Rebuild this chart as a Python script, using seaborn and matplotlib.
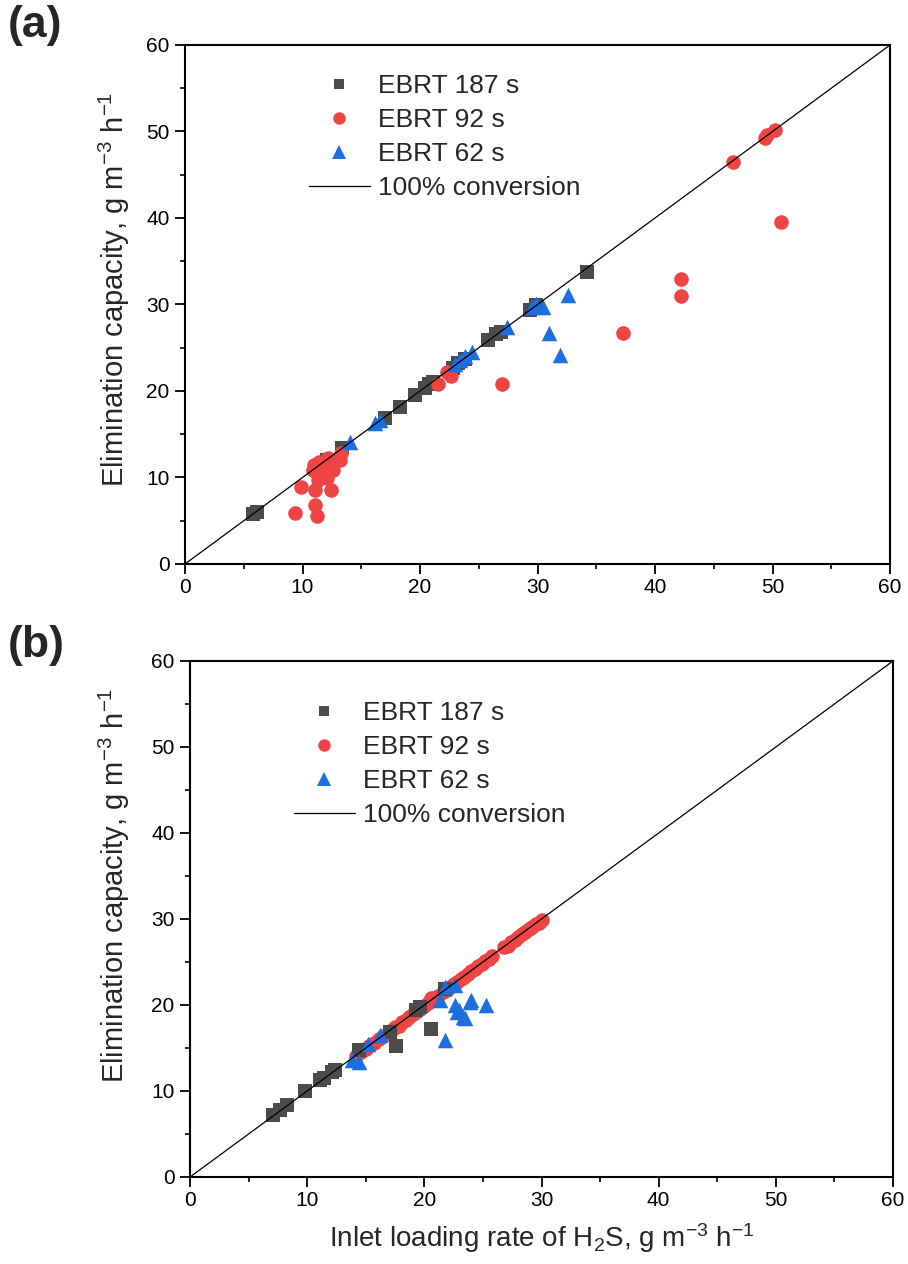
import matplotlib
matplotlib.use("Agg")
import matplotlib.pyplot as plt
import seaborn as sns
import pandas as pd
from matplotlib.lines import Line2D
from matplotlib.ticker import MultipleLocator

sns.set_theme(style="white")
plt.rcParams["font.family"] = ["Liberation Sans", "DejaVu Sans"]
plt.rcParams["mathtext.default"] = "regular"

# ---- Panel (a): loading rate vs elimination capacity ----
a_187_x = [5.8, 6.1, 12.1, 13.4, 17.0, 18.3, 19.6, 20.4, 20.8, 21.1, 22.8, 23.2, 23.8,
           25.8, 26.5, 26.9, 29.4, 29.9, 34.2]
a_187_y = [5.8, 6.0, 12.0, 13.4, 16.9, 18.2, 19.5, 20.4, 20.8, 21.0, 22.7, 23.2, 23.7,
           25.9, 26.6, 26.8, 29.4, 29.9, 33.8]

a_92_x = [9.4, 11.2, 11.1, 9.9, 11.1, 12.4, 10.9, 11.2, 11.3, 11.5, 11.6, 11.8, 12.1,
          12.1, 12.1, 12.2, 12.6, 13.2, 13.3, 11.0, 11.4, 21.5, 22.3, 22.6, 27.0, 37.3,
          42.2, 42.2, 46.6, 49.4, 49.5, 50.2, 50.7]
a_92_y = [5.9, 5.5, 6.8, 8.9, 8.6, 8.6, 10.9, 10.5, 9.7, 11.2, 11.6, 10.5, 9.9,
          10.9, 12.0, 12.3, 10.9, 12.0, 12.8, 11.4, 11.8, 20.8, 22.2, 21.7, 20.8, 26.7,
          33.0, 31.0, 46.5, 49.3, 49.6, 50.2, 39.5]

a_62_x = [14.0, 16.2, 16.6, 23.0, 23.4, 23.8, 24.4, 27.4, 29.5, 29.9, 30.5, 32.6, 31.0, 31.9]
a_62_y = [14.1, 16.3, 16.6, 23.1, 23.6, 24.0, 24.5, 27.4, 29.7, 30.1, 29.7, 31.1, 26.7, 24.2]

# ---- Panel (b) ----
b_187_x = [7.1, 7.7, 8.25, 9.8, 11.1, 11.4, 12.1, 12.4, 14.4, 17.1, 17.6, 19.3, 19.6, 20.6, 21.8]
b_187_y = [7.2, 7.8, 8.4, 10.0, 11.3, 11.5, 12.2, 12.5, 14.8, 16.9, 15.2, 19.4, 19.8, 17.2, 21.9]

b_92_x = [14.2, 14.6, 15.0, 15.3, 15.7, 16.1, 16.5, 16.9, 17.2, 17.5, 17.8, 18.1, 18.4,
          18.7, 19.0, 19.3, 19.6, 20.0, 20.3, 20.6, 20.9, 21.2, 21.6, 21.9, 22.2, 22.5,
          22.8, 23.1, 23.4, 23.7, 24.0, 24.3, 24.6, 24.9, 25.2, 25.5, 25.8, 26.8, 27.1,
          27.4, 27.7, 28.0, 28.3, 28.6, 28.9, 29.2, 29.5, 29.8, 30.0]
b_92_y = [14.1, 14.5, 14.9, 15.2, 15.6, 16.0, 16.4, 16.8, 17.1, 17.4, 17.6, 18.0, 18.3,
          18.6, 18.9, 19.2, 19.5, 19.9, 20.2, 20.8, 20.8, 21.1, 21.5, 21.8, 22.1, 22.4,
          22.7, 23.0, 23.3, 23.6, 23.9, 24.2, 24.5, 24.8, 25.1, 25.4, 25.7, 26.7, 26.9,
          27.3, 27.6, 27.9, 28.2, 28.5, 28.8, 29.1, 29.4, 29.5, 29.9]

b_62_x = [13.8, 14.4, 15.2, 16.2, 21.3, 21.8, 22.6, 22.6, 22.8, 23.0, 23.3, 23.5, 23.9,
          24.0, 25.3, 21.8]
b_62_y = [13.6, 13.4, 15.5, 16.5, 20.6, 22.1, 22.3, 20.0, 19.2, 19.4, 18.6, 18.5, 20.4,
          20.6, 20.0, 15.9]

conversion_line = [0, 60]

series_names = ["EBRT 187 s", "EBRT 92 s", "EBRT 62 s"]
line_name = "100% conversion"
colors = {"EBRT 187 s": "#4b4b4b", "EBRT 92 s": "#ef4444", "EBRT 62 s": "#1c6fdf"}
markers = {"EBRT 187 s": "s", "EBRT 92 s": "o", "EBRT 62 s": "^"}
sizes = {"EBRT 187 s": 95, "EBRT 92 s": 110, "EBRT 62 s": 125}
legend_sizes = {"EBRT 187 s": 7.5, "EBRT 92 s": 9, "EBRT 62 s": 10.5}

fig = plt.figure(figsize=(9.08, 12.64), dpi=100)
ax_a = fig.add_axes([185 / 908, 1 - 564 / 1264, 705 / 908, 519 / 1264])
ax_b = fig.add_axes([190 / 908, 1 - 1177 / 1264, 703 / 908, 516 / 1264])

panel_a = {"EBRT 187 s": (a_187_x, a_187_y), "EBRT 92 s": (a_92_x, a_92_y),
           "EBRT 62 s": (a_62_x, a_62_y)}
panel_b = {"EBRT 187 s": (b_187_x, b_187_y), "EBRT 92 s": (b_92_x, b_92_y),
           "EBRT 62 s": (b_62_x, b_62_y)}


def draw_panel(ax, data, order, legend_anchor, letter, letter_y, xlabel,
               ylabel_y, ylabel_pad):
    for z, name in enumerate(order):
        xs, ys = data[name]
        df = pd.DataFrame({"x": xs, "y": ys})
        sns.scatterplot(data=df, x="x", y="y", ax=ax, marker=markers[name],
                        color=colors[name], s=sizes[name], linewidth=0,
                        legend=False, zorder=3 + z)
    sns.lineplot(x=conversion_line, y=conversion_line, ax=ax, color="black",
                 linewidth=0.9, zorder=10)

    ax.set_xlim(0, 60)
    ax.set_ylim(0, 60)
    ax.xaxis.set_major_locator(MultipleLocator(10))
    ax.yaxis.set_major_locator(MultipleLocator(10))
    ax.xaxis.set_minor_locator(MultipleLocator(5))
    ax.yaxis.set_minor_locator(MultipleLocator(5))
    ax.tick_params(axis="both", which="major", direction="out", length=7, width=1.3,
                   labelsize=15, colors="black", left=True, bottom=True)
    ax.tick_params(axis="y", which="major", pad=4)
    ax.tick_params(axis="x", which="major", pad=3)
    ax.tick_params(axis="both", which="minor", direction="out", length=3.5, width=1.2,
                   left=True, bottom=True, colors="black")
    for sp in ax.spines.values():
        sp.set_visible(True)
        sp.set_color("black")
        sp.set_linewidth(1.5)

    ax.set_ylabel("Elimination capacity, g m$^{-3}$ h$^{-1}$", fontsize=21,
                  labelpad=ylabel_pad)
    ax.yaxis.label.set_y(ylabel_y)
    ax.set_xlabel(xlabel, fontsize=20, labelpad=8)

    handles = [Line2D([], [], linestyle="none", marker=markers[n], color=colors[n],
                      markersize=legend_sizes[n], markeredgewidth=0)
               for n in series_names]
    handles.append(Line2D([], [], color="black", linewidth=0.9))
    ax.legend(handles, series_names + [line_name], loc="upper left",
              bbox_to_anchor=legend_anchor, frameon=False, fontsize=19,
              borderpad=0, borderaxespad=0, handlelength=2.3, handletextpad=0.3,
              labelspacing=0.375)

    fig.text(8 / 908, letter_y, letter, fontsize=32, fontweight="bold",
             ha="left", va="top")


draw_panel(ax_a, panel_a, ["EBRT 187 s", "EBRT 92 s", "EBRT 62 s"],
           (0.176, 0.944), "(a)", 1 - 5 / 1264, "", 0.53, 10)
draw_panel(ax_b, panel_b, ["EBRT 92 s", "EBRT 187 s", "EBRT 62 s"],
           (0.148, 0.922), "(b)", 1 - 625 / 1264,
           "Inlet loading rate of H$_2$S, g m$^{-3}$ h$^{-1}$", 0.565, 14)

fig.savefig("out.png", dpi=100)
